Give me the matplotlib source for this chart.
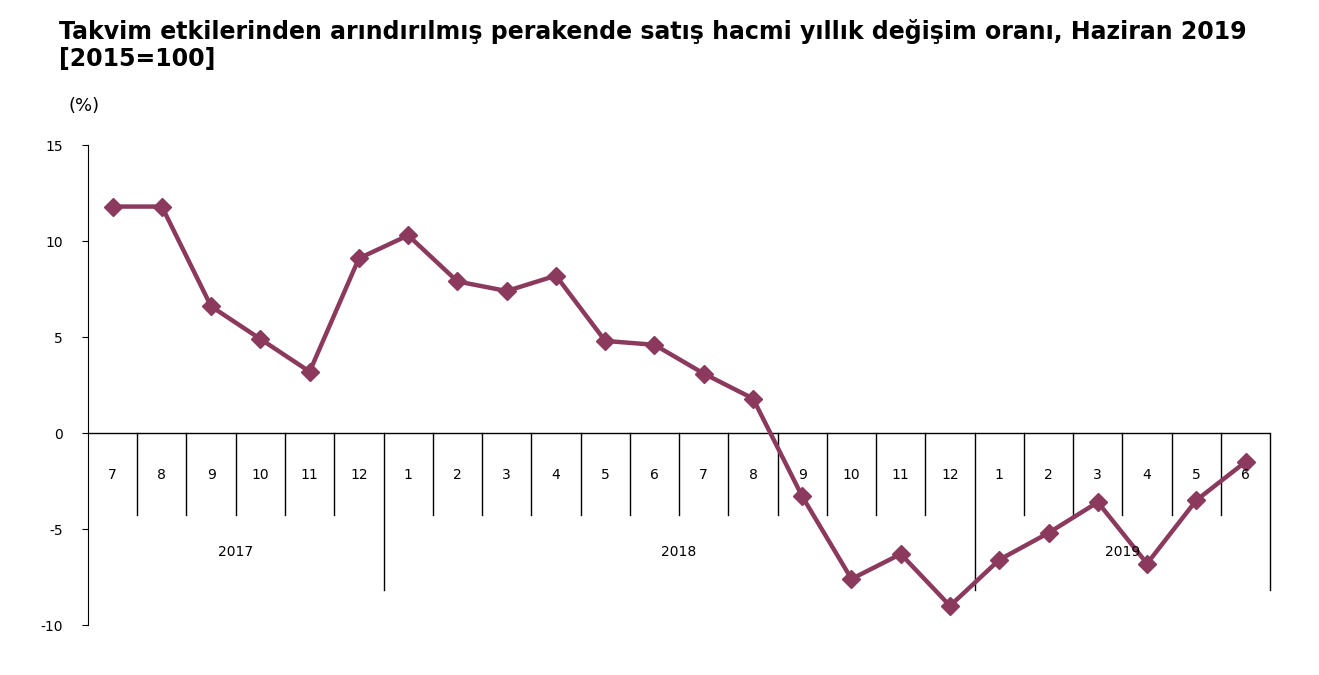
import matplotlib.pyplot as plt
import matplotlib.transforms as mtransforms

months = ["7", "8", "9", "10", "11", "12",
          "1", "2", "3", "4", "5", "6", "7", "8", "9", "10", "11", "12",
          "1", "2", "3", "4", "5", "6"]
values = [11.8, 11.8, 6.6, 4.9, 3.2, 9.1,
          10.3, 7.9, 7.4, 8.2, 4.8, 4.6, 3.1, 1.8, -3.3, -7.6, -6.3, -9.0,
          -6.6, -5.2, -3.6, -6.8, -3.5, -1.5]
years = ["2017", "2018", "2019"]
year_spans = [(0, 5), (6, 17), (18, 23)]
yticks = [-10, -5, 0, 5, 10, 15]

COLOR = "#8B3A5E"

fig = plt.figure(figsize=(13.19, 6.75), dpi=100)
ax = fig.add_axes([0.0667, 0.074, 0.8963, 0.711])
x = list(range(len(values)))
ax.plot(x, values, color=COLOR, lw=3.2, marker="D", markersize=9, zorder=3)

ax.set_xlim(-0.5, len(values) - 0.5)
ax.set_ylim(-10, 15)
ax.set_yticks(yticks)
ax.set_yticklabels([str(t) for t in yticks], fontsize=10)
ax.tick_params(axis="y", length=4, pad=14)
ax.set_xticks([])
for s in ["top", "right", "bottom"]:
    ax.spines[s].set_visible(False)
ax.axhline(0, color="black", lw=1)

trans = mtransforms.blended_transform_factory(ax.transData, ax.transAxes)
zero_frac = 10 / 25
boundaries = [e + 0.5 for _, e in year_spans]
for i in range(len(values)):
    ax.text(i, 0.3125, months[i], transform=trans, ha="center", va="center", fontsize=10)
    b = i + 0.5
    if b in boundaries:
        ax.plot([b, b], [zero_frac, 0.073], transform=trans, color="black", lw=1, clip_on=False)
    else:
        ax.plot([b, b], [zero_frac, 0.229], transform=trans, color="black", lw=1, clip_on=False)
for name, (s, e) in zip(years, year_spans):
    ax.text((s + e) / 2, 0.152, name, transform=trans, ha="center", va="center", fontsize=10)

fig.text(0.045, 0.953, "Takvim etkilerinden arındırılmış perakende satış hacmi yıllık değişim oranı, Haziran 2019",
         fontsize=17, fontweight="bold", ha="left", va="center")
fig.text(0.045, 0.912, "[2015=100]", fontsize=17, fontweight="bold", ha="left", va="center")
fig.text(0.052, 0.843, "(%)", fontsize=13, ha="left", va="center")

fig.savefig("out.png", dpi=100)
